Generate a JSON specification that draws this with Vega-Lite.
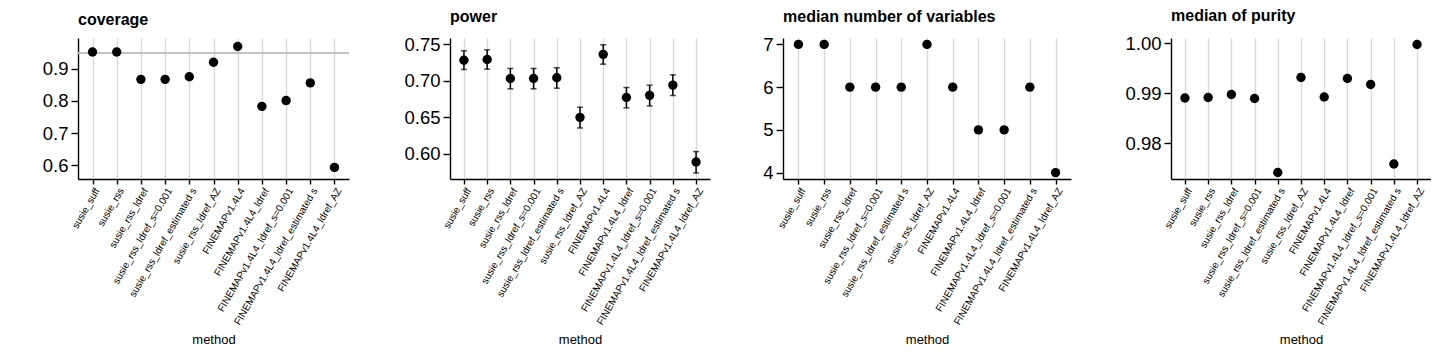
{
  "$schema": "https://vega.github.io/schema/vega-lite/v6.json",
  "padding": {"left": 0, "top": 7, "right": 0, "bottom": 0},
  "background": "white",
  "datasets": {
    "res": [
      {"method": "susie_suff", "coverage": 0.952, "power": 0.728, "power_lo": 0.7153, "power_hi": 0.7409, "nvars": 7, "purity": 0.9890},
      {"method": "susie_rss", "coverage": 0.952, "power": 0.729, "power_lo": 0.7158, "power_hi": 0.7422, "nvars": 7, "purity": 0.9891},
      {"method": "susie_rss_ldref", "coverage": 0.867, "power": 0.703, "power_lo": 0.6889, "power_hi": 0.7167, "nvars": 6, "purity": 0.9897},
      {"method": "susie_rss_ldref_s=0.001", "coverage": 0.867, "power": 0.703, "power_lo": 0.6889, "power_hi": 0.7167, "nvars": 6, "purity": 0.9889},
      {"method": "susie_rss_ldref_estimated s", "coverage": 0.875, "power": 0.704, "power_lo": 0.6898, "power_hi": 0.7176, "nvars": 6, "purity": 0.9741},
      {"method": "susie_rss_ldref_AZ", "coverage": 0.920, "power": 0.650, "power_lo": 0.6355, "power_hi": 0.6638, "nvars": 7, "purity": 0.9931},
      {"method": "FINEMAPv1.4L4", "coverage": 0.969, "power": 0.736, "power_lo": 0.7226, "power_hi": 0.7491, "nvars": 6, "purity": 0.9892},
      {"method": "FINEMAPv1.4L4_ldref", "coverage": 0.783, "power": 0.677, "power_lo": 0.6629, "power_hi": 0.6907, "nvars": 5, "purity": 0.9929},
      {"method": "FINEMAPv1.4L4_ldref_s=0.001", "coverage": 0.801, "power": 0.680, "power_lo": 0.6656, "power_hi": 0.6939, "nvars": 5, "purity": 0.9917},
      {"method": "FINEMAPv1.4L4_ldref_estimated s", "coverage": 0.856, "power": 0.694, "power_lo": 0.6798, "power_hi": 0.7080, "nvars": 6, "purity": 0.9758},
      {"method": "FINEMAPv1.4L4_ldref_AZ", "coverage": 0.593, "power": 0.589, "power_lo": 0.5740, "power_hi": 0.6032, "nvars": 4, "purity": 0.9997}
    ]
  },
  "spacing": 0,
  "hconcat": [
    {
      "width": 271, "height": 141,
      "title": "coverage",
      "data": {"name": "res"},
      "layer": [
        {
          "mark": {"type": "rule", "color": "#c2c2c2", "strokeWidth": 1.5},
          "encoding": {"y": {"datum": 0.95, "type": "quantitative"}}
        },
        {
          "mark": {"type": "point", "filled": true, "color": "black", "opacity": 1, "size": 88},
          "encoding": {
            "x": {"field": "method", "type": "nominal", "sort": ["susie_suff","susie_rss","susie_rss_ldref","susie_rss_ldref_s=0.001","susie_rss_ldref_estimated s","susie_rss_ldref_AZ","FINEMAPv1.4L4","FINEMAPv1.4L4_ldref","FINEMAPv1.4L4_ldref_s=0.001","FINEMAPv1.4L4_ldref_estimated s","FINEMAPv1.4L4_ldref_AZ"], "scale": {"type": "point", "padding": 0.6}, "axis": {"title": "method"}},
            "y": {"field": "coverage", "type": "quantitative", "scale": {"domain": [0.557, 0.9956], "nice": false, "zero": false}, "axis": {"values": [0.6, 0.7, 0.8, 0.9], "format": ".1f", "minExtent": 78, "maxExtent": 78}}
          }
        }
      ]
    },
    {
      "width": 260, "height": 141,
      "title": "power",
      "data": {"name": "res"},
      "encoding": {
        "x": {"field": "method", "type": "nominal", "sort": ["susie_suff","susie_rss","susie_rss_ldref","susie_rss_ldref_s=0.001","susie_rss_ldref_estimated s","susie_rss_ldref_AZ","FINEMAPv1.4L4","FINEMAPv1.4L4_ldref","FINEMAPv1.4L4_ldref_s=0.001","FINEMAPv1.4L4_ldref_estimated s","FINEMAPv1.4L4_ldref_AZ"], "scale": {"type": "point", "padding": 0.6}, "axis": {"title": "method"}}
      },
      "layer": [
        {
          "mark": {"type": "rule", "color": "black", "strokeWidth": 1.5},
          "encoding": {
            "y": {"field": "power_lo", "type": "quantitative", "scale": {"domain": [0.5658, 0.7583], "nice": false, "zero": false}, "axis": {"values": [0.6, 0.65, 0.7, 0.75], "format": ".2f", "minExtent": 100, "maxExtent": 100}},
            "y2": {"field": "power_hi"}
          }
        },
        {
          "mark": {"type": "tick", "color": "black", "size": 6, "thickness": 1.5, "orient": "horizontal"},
          "encoding": {"y": {"field": "power_lo", "type": "quantitative"}}
        },
        {
          "mark": {"type": "tick", "color": "black", "size": 6, "thickness": 1.5, "orient": "horizontal"},
          "encoding": {"y": {"field": "power_hi", "type": "quantitative"}}
        },
        {
          "mark": {"type": "point", "filled": true, "color": "black", "opacity": 1, "size": 88},
          "encoding": {"y": {"field": "power", "type": "quantitative"}}
        }
      ]
    },
    {
      "width": 288, "height": 141,
      "title": "median number of variables",
      "data": {"name": "res"},
      "mark": {"type": "point", "filled": true, "color": "black", "opacity": 1, "size": 88},
      "encoding": {
        "x": {"field": "method", "type": "nominal", "sort": ["susie_suff","susie_rss","susie_rss_ldref","susie_rss_ldref_s=0.001","susie_rss_ldref_estimated s","susie_rss_ldref_AZ","FINEMAPv1.4L4","FINEMAPv1.4L4_ldref","FINEMAPv1.4L4_ldref_s=0.001","FINEMAPv1.4L4_ldref_estimated s","FINEMAPv1.4L4_ldref_AZ"], "scale": {"type": "point", "padding": 0.6}, "axis": {"title": "method"}},
        "y": {"field": "nvars", "type": "quantitative", "scale": {"domain": [3.85, 7.15], "nice": false, "zero": false}, "axis": {"values": [4, 5, 6, 7], "format": "d", "minExtent": 73, "maxExtent": 73}}
      }
    },
    {
      "width": 260, "height": 141,
      "title": "median of purity",
      "data": {"name": "res"},
      "mark": {"type": "point", "filled": true, "color": "black", "opacity": 1, "size": 88},
      "encoding": {
        "x": {"field": "method", "type": "nominal", "sort": ["susie_suff","susie_rss","susie_rss_ldref","susie_rss_ldref_s=0.001","susie_rss_ldref_estimated s","susie_rss_ldref_AZ","FINEMAPv1.4L4","FINEMAPv1.4L4_ldref","FINEMAPv1.4L4_ldref_s=0.001","FINEMAPv1.4L4_ldref_estimated s","FINEMAPv1.4L4_ldref_AZ"], "scale": {"type": "point", "padding": 0.6}, "axis": {"title": "method"}},
        "y": {"field": "purity", "type": "quantitative", "scale": {"domain": [0.9728, 1.001], "nice": false, "zero": false}, "axis": {"values": [0.98, 0.99, 1.0], "format": ".2f", "minExtent": 100, "maxExtent": 100}}
      }
    }
  ],
  "config": {
    "font": "Liberation Sans",
    "view": {"stroke": null},
    "title": {"anchor": "start", "frame": "group", "fontSize": 16, "fontWeight": "bold", "color": "black", "offset": 10},
    "axis": {"domainColor": "black", "domainWidth": 1.4, "tickColor": "black", "tickWidth": 1.4, "labelColor": "black", "titleColor": "black", "titleFontWeight": "normal"},
    "axisX": {"grid": true, "gridColor": "#d9d9d9", "gridWidth": 1.4, "labelAngle": -60, "labelAlign": "right", "labelBaseline": "top", "labelFontSize": 10, "tickSize": 5, "labelPadding": 2, "titleFontSize": 13, "titlePadding": 7},
    "axisY": {"grid": false, "labelFontSize": 18.5, "tickSize": 7, "labelPadding": 3, "title": null}
  }
}
